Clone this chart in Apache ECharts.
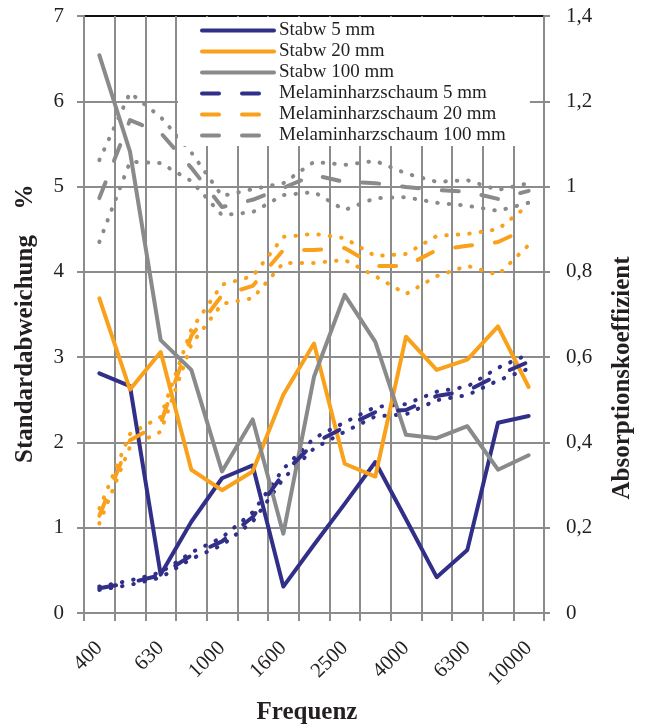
<!DOCTYPE html>
<html>
<head>
<meta charset="utf-8">
<script src="https://cdn.jsdelivr.net/npm/echarts@6/dist/echarts.min.js"></script>
<style>
  html, body { margin: 0; padding: 0; background: #fff; }
  #chart { width: 648px; height: 727px; }
</style>
</head>
<body>
<div id="chart"></div>
<script>
// Third-octave band centre frequencies (Hz)
const frequencies = ['400', '500', '630', '800', '1000', '1250', '1600', '2000',
                     '2500', '3150', '4000', '5000', '6300', '8000', '10000'];

// Standard deviation (%), left axis
const stabw5   = [2.81, 2.66, 0.45, 1.07, 1.58, 1.73, 0.31, 0.80, 1.28, 1.77, 1.10, 0.42, 0.74, 2.23, 2.31];
const stabw20  = [3.69, 2.62, 3.06, 1.68, 1.44, 1.66, 2.56, 3.16, 1.75, 1.60, 3.24, 2.85, 2.97, 3.36, 2.65];
const stabw100 = [6.54, 5.41, 3.20, 2.85, 1.66, 2.27, 0.93, 2.77, 3.73, 3.18, 2.09, 2.05, 2.19, 1.68, 1.85];

// Absorption coefficient of melamine foam (mean, upper, lower), right axis
const mel5     = [0.058, 0.071, 0.089, 0.135, 0.168, 0.225, 0.327, 0.398, 0.436, 0.471, 0.476, 0.509, 0.521, 0.558, 0.589];
const mel5Max  = [0.062, 0.076, 0.095, 0.142, 0.177, 0.236, 0.338, 0.410, 0.447, 0.483, 0.490, 0.519, 0.531, 0.575, 0.607];
const mel5Min  = [0.054, 0.066, 0.083, 0.127, 0.159, 0.214, 0.315, 0.386, 0.425, 0.461, 0.466, 0.499, 0.511, 0.545, 0.573];

const mel20    = [0.228, 0.405, 0.445, 0.650, 0.745, 0.767, 0.851, 0.851, 0.856, 0.814, 0.814, 0.851, 0.861, 0.870, 0.903];
const mel20Max = [0.245, 0.420, 0.460, 0.665, 0.770, 0.790, 0.882, 0.889, 0.879, 0.837, 0.842, 0.884, 0.889, 0.900, 0.957];
const mel20Min = [0.210, 0.390, 0.425, 0.630, 0.725, 0.738, 0.821, 0.821, 0.828, 0.790, 0.748, 0.790, 0.814, 0.793, 0.863];

const mel100    = [0.973, 1.156, 1.126, 1.044, 0.952, 0.969, 0.997, 1.027, 1.011, 1.008, 0.999, 0.992, 0.988, 0.971, 0.990];
const mel100Max = [1.062, 1.220, 1.163, 1.080, 0.978, 0.994, 1.008, 1.058, 1.051, 1.060, 1.031, 1.011, 1.015, 0.992, 1.008];
const mel100Min = [0.870, 1.058, 1.055, 1.013, 0.933, 0.940, 0.980, 0.987, 0.945, 0.973, 0.975, 0.962, 0.955, 0.943, 0.962];

// Axis ticks
const leftTicks  = { min: 0, max: 7, interval: 1 };
const rightTicks = { min: 0, max: 1.4, interval: 0.2 };

const NAVY = '#312F88';
const ORANGE = '#F9A11B';
const GREY = '#898A8C';
const GRID = '#8C8C8C';
const INK = '#231F20';
const SERIF = '"Liberation Serif", "Times New Roman", serif';

const DASH = [17, 23];
const DOT = [0.5, 11];

function line(name, data, color, dash, axis) {
  return {
    name: name,
    type: 'line',
    yAxisIndex: axis,
    data: data,
    symbol: 'none',
    silent: true,
    animation: false,
    lineStyle: { color: color, width: 4, type: dash, cap: 'round', join: 'round' },
    itemStyle: { color: color }
  };
}

const series = [
  line('Melaminharzschaum 5 mm (max)', mel5Max, NAVY, DOT, 1),
  line('Melaminharzschaum 5 mm (min)', mel5Min, NAVY, DOT, 1),
  line('Melaminharzschaum 20 mm (max)', mel20Max, ORANGE, DOT, 1),
  line('Melaminharzschaum 20 mm (min)', mel20Min, ORANGE, DOT, 1),
  line('Melaminharzschaum 100 mm (max)', mel100Max, GREY, DOT, 1),
  line('Melaminharzschaum 100 mm (min)', mel100Min, GREY, DOT, 1),
  line('Stabw 5 mm', stabw5, NAVY, 'solid', 0),
  line('Stabw 20 mm', stabw20, ORANGE, 'solid', 0),
  line('Stabw 100 mm', stabw100, GREY, 'solid', 0),
  line('Melaminharzschaum 5 mm', mel5, NAVY, DASH, 1),
  line('Melaminharzschaum 20 mm', mel20, ORANGE, DASH, 1),
  line('Melaminharzschaum 100 mm', mel100, GREY, DASH, 1)
];

// legend entries: line sample only, styled like the series they stand for
const legendEntries = [
  ['Stabw 5 mm', NAVY, 'solid'],
  ['Stabw 20 mm', ORANGE, 'solid'],
  ['Stabw 100 mm', GREY, 'solid'],
  ['Melaminharzschaum 5 mm', NAVY, DASH],
  ['Melaminharzschaum 20 mm', ORANGE, DASH],
  ['Melaminharzschaum 100 mm', GREY, DASH]
].map(function (e) {
  return {
    name: e[0],
    itemStyle: { opacity: 0, color: 'transparent', borderWidth: 0 },
    lineStyle: { color: e[1], width: 4, type: e[2], cap: 'round' }
  };
});

// grid lines: grey, with the top one drawn black as the frame edge
const splitColors = [];
for (let v = leftTicks.min; v < leftTicks.max; v += leftTicks.interval) splitColors.push(GRID);
splitColors.push('#111');

const chart = echarts.init(document.getElementById('chart'), null, { renderer: 'canvas' });

chart.setOption({
  animation: false,
  backgroundColor: '#fff',
  grid: { left: 84, right: 104, top: 16, bottom: 114, containLabel: false },
  legend: {
    data: legendEntries,
    orient: 'vertical',
    left: 178,
    top: 17,
    padding: [3, 24, 0, 22],
    itemGap: 0,
    itemWidth: 72,
    itemHeight: 14,
    backgroundColor: '#fff',
    selectedMode: false,
    itemStyle: { opacity: 0 },
    lineStyle: { width: 4, cap: 'round' },
    textStyle: { fontFamily: SERIF, fontSize: 19, color: INK, lineHeight: 21, padding: [0, 0, 0, 0] }
  },
  xAxis: {
    type: 'category',
    data: frequencies,
    boundaryGap: true,
    axisLine: { lineStyle: { color: GRID, width: 2 } },
    axisTick: { show: true, interval: 0, length: 8, lineStyle: { color: GRID, width: 2 } },
    splitLine: { show: true, interval: 0, lineStyle: { color: GRID, width: 2 } },
    axisLabel: {
      interval: 1,
      rotate: 45,
      margin: 32,
      fontFamily: SERIF,
      fontSize: 21,
      color: INK
    }
  },
  yAxis: [
    {
      type: 'value',
      min: leftTicks.min,
      max: leftTicks.max,
      interval: leftTicks.interval,
      axisLine: { show: true, lineStyle: { color: GRID, width: 2 } },
      axisTick: { show: true, length: 7, lineStyle: { color: GRID, width: 2 } },
      splitLine: { show: true, lineStyle: { color: splitColors, width: 2 } },
      axisLabel: { margin: 20, fontFamily: SERIF, fontSize: 21, color: INK }
    },
    {
      type: 'value',
      position: 'right',
      min: rightTicks.min,
      max: rightTicks.max,
      interval: rightTicks.interval,
      axisLine: { show: true, lineStyle: { color: GRID, width: 2 } },
      axisTick: { show: true, length: 6, lineStyle: { color: GRID, width: 2 } },
      splitLine: { show: false },
      axisLabel: {
        margin: 22,
        fontFamily: SERIF,
        fontSize: 21,
        color: INK,
        formatter: function (v) { return String(Math.round(v * 10) / 10).replace('.', ','); }
      }
    }
  ],
  graphic: [
    {
      type: 'text', x: 26, y: 349, rotation: Math.PI / 2, silent: true,
      style: { text: 'Standardabweichung', fontFamily: SERIF, fontWeight: 'bold', fontSize: 25,
               fill: INK, align: 'center', verticalAlign: 'middle' }
    },
    {
      type: 'text', x: 26, y: 197, rotation: Math.PI / 2, silent: true,
      style: { text: '%', fontFamily: SERIF, fontWeight: 'bold', fontSize: 25,
               fill: INK, align: 'center', verticalAlign: 'middle' }
    },
    {
      type: 'text', x: 623, y: 378, rotation: Math.PI / 2, silent: true,
      style: { text: 'Absorptionskoeffizient', fontFamily: SERIF, fontWeight: 'bold', fontSize: 25,
               fill: INK, align: 'center', verticalAlign: 'middle' }
    },
    {
      type: 'text', x: 307, y: 713, silent: true,
      style: { text: 'Frequenz', fontFamily: SERIF, fontWeight: 'bold', fontSize: 25,
               fill: INK, align: 'center', verticalAlign: 'middle' }
    }
  ],
  series: series
});
</script>
</body>
</html>
